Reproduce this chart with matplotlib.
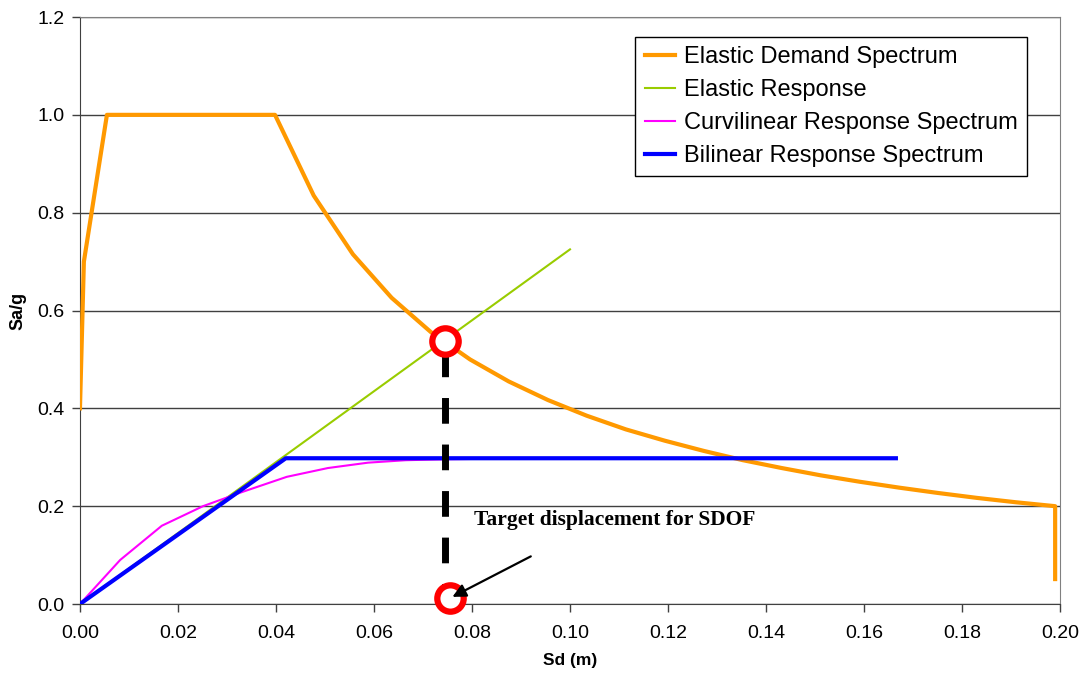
import matplotlib.pyplot as plt

# Elastic demand spectrum (Sd in m, Sa in g)
demand_sd = [0.0, 0.0008, 0.0055, 0.0398, 0.0477, 0.0557, 0.0636, 0.0716, 0.0796,
             0.0875, 0.0955, 0.1034, 0.1114, 0.1193, 0.1273, 0.1353, 0.1432,
             0.1512, 0.1591, 0.1671, 0.1751, 0.1830, 0.1910, 0.1990, 0.1990]
demand_sa = [0.40, 0.70, 1.00, 1.00, 0.835, 0.715, 0.626, 0.556, 0.500,
             0.455, 0.417, 0.385, 0.357, 0.334, 0.313, 0.294, 0.278,
             0.263, 0.250, 0.238, 0.227, 0.217, 0.208, 0.200, 0.051]

# Elastic response
elastic_sd = [0.0, 0.100]
elastic_sa = [0.0, 0.725]

# Curvilinear response spectrum
curv_sd = [0.0, 0.0082, 0.0167, 0.0251, 0.0331, 0.0422, 0.0506, 0.0588,
           0.0665, 0.075, 0.084, 0.0925]
curv_sa = [0.0, 0.090, 0.160, 0.200, 0.229, 0.260, 0.278, 0.289,
           0.294, 0.296, 0.297, 0.298]

# Bilinear response spectrum
bilin_sd = [0.0, 0.042, 0.1665]
bilin_sa = [0.0, 0.298, 0.298]

# performance point and target displacement
perf_sd, perf_sa = 0.0745, 0.538
target_sd, target_sa = 0.0755, 0.012

fig = plt.figure(figsize=(10.85, 6.73), dpi=100)
ax = fig.add_axes([0.0737, 0.1025, 0.9033, 0.8722])

ax.plot(demand_sd, demand_sa, color='#FF9900', lw=3, label='Elastic Demand Spectrum', zorder=3)
ax.plot(elastic_sd, elastic_sa, color='#99CC00', lw=1.5, label='Elastic Response', zorder=3)
ax.plot(curv_sd, curv_sa, color='#FF00FF', lw=1.5, label='Curvilinear Response Spectrum', zorder=3)
ax.plot(bilin_sd, bilin_sa, color='#0000FF', lw=3, label='Bilinear Response Spectrum', zorder=4)

# dashed drop line
ax.plot([perf_sd, perf_sd], [perf_sa - 0.02, target_sa + 0.02], color='black', lw=5,
        dashes=(3.7, 3.0), zorder=5)
ax.plot([perf_sd], [perf_sa], 'o', ms=19, mfc='white', mec='#FF0000', mew=4.5, zorder=6)
ax.plot([target_sd], [target_sa], 'o', ms=19, mfc='white', mec='#FF0000', mew=4.5, zorder=6,
        clip_on=False)

ax.annotate('', xy=(target_sd, target_sa), xytext=(0.0925, 0.10),
            arrowprops=dict(arrowstyle='-|>', color='black', lw=1.6, mutation_scale=20), zorder=7)
ax.text(0.0805, 0.172, 'Target displacement for SDOF', family='Liberation Serif',
        fontweight='bold', fontsize=15.5, va='center', ha='left')

ax.set_xlim(0, 0.20)
ax.set_ylim(0, 1.2)
ax.set_xticks([i * 0.02 for i in range(11)])
ax.set_xticklabels(['%.2f' % (i * 0.02) for i in range(11)])
ax.set_yticks([i * 0.2 for i in range(7)])
ax.set_yticklabels(['%.1f' % (i * 0.2) for i in range(7)])
ax.tick_params(direction='out', length=6, width=1, color='#404040', labelsize=14)
ax.tick_params(axis='x', pad=9)
ax.tick_params(axis='y', pad=5)
for lbl in ax.get_xticklabels() + ax.get_yticklabels():
    lbl.set_family('Liberation Sans')

ax.yaxis.grid(True, color='#404040', lw=1)
ax.set_axisbelow(True)
for s in ['left', 'bottom']:
    ax.spines[s].set_color('#404040')
for s in ['top', 'right']:
    ax.spines[s].set_color('#808080')

ax.set_xlabel('Sd (m)', family='Liberation Sans', fontweight='bold', fontsize=12.5, labelpad=8)
ax.set_ylabel('Sa/g', family='Liberation Sans', fontweight='bold', fontsize=13, labelpad=8)

leg = ax.legend(loc='upper right', bbox_to_anchor=(0.966, 0.966), prop={'family': 'Liberation Sans', 'size': 17},
                fancybox=False, framealpha=1, edgecolor='black', handlelength=1.3,
                handletextpad=0.35, labelspacing=0.46, borderpad=0.4, borderaxespad=0)
leg.get_frame().set_linewidth(1)

fig.savefig('out.png', dpi=100)
